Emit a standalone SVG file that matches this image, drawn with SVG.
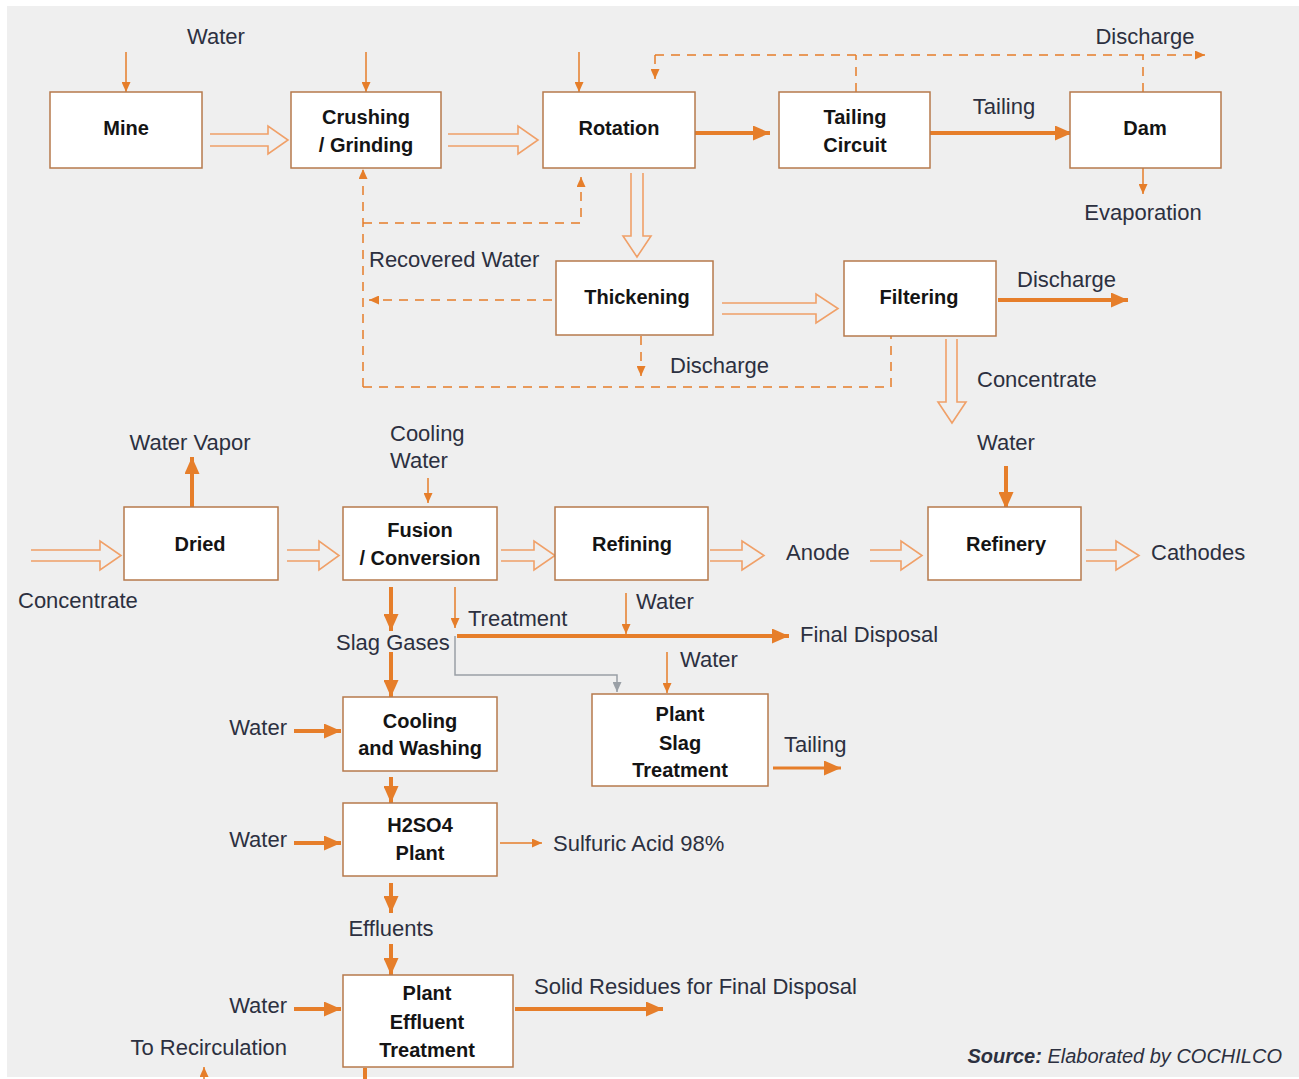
<svg xmlns="http://www.w3.org/2000/svg" width="1299" height="1079" viewBox="0 0 1299 1079">
<style>
.box{fill:#fff;stroke:#b67a4c;stroke-width:1.5}
.nt{font-family:"Liberation Sans",Arial,sans-serif;font-weight:bold;font-size:20px;fill:#141414;text-anchor:middle}
.lb{font-family:"Liberation Sans",Arial,sans-serif;font-size:22px;fill:#2c3040}
.thick{stroke:#e67e2a;stroke-width:4;fill:none;marker-end:url(#hk)}
.thin{stroke:#e67e2a;stroke-width:1.5;fill:none;marker-end:url(#hn)}
.dash{stroke:#e67e2a;stroke-width:1.5;fill:none;stroke-dasharray:9 7}
.dashA{stroke:#e67e2a;stroke-width:1.5;fill:none;stroke-dasharray:9 7;marker-end:url(#hn)}
.hollow{stroke:#f0a068;stroke-width:1.6;fill:none}
</style>
<defs>
<marker id="hk" markerUnits="userSpaceOnUse" markerWidth="17" markerHeight="15" refX="17" refY="7.5" orient="auto"><path d="M0,0 L17,7.5 L0,15 z" fill="#e67e2a"/></marker>
<marker id="hn" markerUnits="userSpaceOnUse" markerWidth="10" markerHeight="9" refX="10" refY="4.5" orient="auto"><path d="M0,0 L10,4.5 L0,9 z" fill="#e67e2a"/></marker>
<marker id="hg" markerUnits="userSpaceOnUse" markerWidth="10" markerHeight="9" refX="10" refY="4.5" orient="auto"><path d="M0,0 L10,4.5 L0,9 z" fill="#9aa0a6"/></marker>
</defs>
<rect x="0" y="0" width="1299" height="1079" fill="#ffffff"/>
<rect x="7" y="6" width="1292" height="1071" fill="#efefef"/>

<g id="connectors">
<path class="hollow" d="M210,134 H268 V126 L288,140 L268,154 V146 H210"/>
<path class="hollow" d="M448,134 H518 V126 L538,140 L518,154 V146 H448"/>
<path class="hollow" d="M631,173 V236 H623 L637,257 L651,236 H643 V173"/>
<path class="hollow" d="M722,303 H816 V294 L838,308.5 L816,323 V314 H722"/>
<path class="hollow" d="M946,339 V402 H938 L952,423 L966,402 H957 V339"/>
<path class="hollow" d="M31,550 H100 V541 L121,555.5 L100,570 V561 H31"/>
<path class="hollow" d="M287,550 H319 V541 L339,555.5 L319,570 V561 H287"/>
<path class="hollow" d="M501,550 H534 V541 L555,555.5 L534,570 V561 H501"/>
<path class="hollow" d="M710,550 H742 V541 L764,555.5 L742,570 V561 H710"/>
<path class="hollow" d="M870,550 H901 V541 L922,555.5 L901,570 V561 H870"/>
<path class="hollow" d="M1086,550 H1116 V541 L1139,555.5 L1116,570 V561 H1086"/>
<line class="thick" x1="695" y1="133" x2="770" y2="133"/>
<line class="thick" x1="930" y1="133" x2="1072" y2="133"/>
<line class="thick" x1="998" y1="300" x2="1128" y2="300"/>
<line class="thick" x1="1006" y1="466" x2="1006" y2="509"/>
<line class="thick" x1="192" y1="507" x2="192" y2="457"/>
<line class="thick" x1="391" y1="587" x2="391" y2="631"/>
<line class="thick" x1="391" y1="652" x2="391" y2="697"/>
<line class="thick" x1="457" y1="636" x2="789" y2="636"/>
<line class="thick" style="stroke-width:3" x1="773" y1="768" x2="841" y2="768"/>
<line class="thick" x1="294" y1="731" x2="341" y2="731"/>
<line class="thick" x1="391" y1="777" x2="391" y2="803"/>
<line class="thick" x1="294" y1="843" x2="341" y2="843"/>
<line class="thick" x1="391" y1="883" x2="391" y2="913"/>
<line class="thick" x1="391" y1="944" x2="391" y2="975"/>
<line class="thick" x1="294" y1="1009" x2="341" y2="1009"/>
<line class="thick" x1="515" y1="1009" x2="663" y2="1009"/>
<line x1="365" y1="1068" x2="365" y2="1085" stroke="#e67e2a" stroke-width="4"/>
<line class="thin" x1="126" y1="52" x2="126" y2="92"/>
<line class="thin" x1="366" y1="52" x2="366" y2="92"/>
<line class="thin" x1="579" y1="52" x2="579" y2="92"/>
<line class="thin" x1="1143" y1="168" x2="1143" y2="194"/>
<line class="thin" x1="428" y1="478" x2="428" y2="503"/>
<line class="thin" x1="455" y1="587" x2="455" y2="628"/>
<line class="thin" x1="626" y1="593" x2="626" y2="634"/>
<line class="thin" x1="667" y1="652" x2="667" y2="693"/>
<line class="thin" x1="500" y1="843" x2="542" y2="843"/>
<line class="thin" x1="204" y1="1092" x2="204" y2="1067"/>
<path class="dashA" d="M655,55 H1205"/>
<path class="dashA" d="M655,55 V79"/>
<path class="dash" d="M856,92 V55"/>
<path class="dash" d="M1143,92 V55"/>
<path class="dashA" d="M552,300 H369"/>
<path class="dashA" d="M363,387 V169"/>
<path class="dashA" d="M363,223 H581 V177"/>
<path class="dashA" d="M363,387 H891 V326"/>
<path class="dashA" d="M641,336 V376"/>
<path d="M455,636 V675 H617 V692" fill="none" stroke="#9aa0a6" stroke-width="1.5" marker-end="url(#hg)"/>
</g>

<g id="mine"><rect class="box" x="50" y="92" width="152" height="76"/><text class="nt" x="126" y="135">Mine</text></g>
<g id="crushing"><rect class="box" x="291" y="92" width="150" height="76"/><text class="nt" x="366" y="124">Crushing</text><text class="nt" x="366" y="152">/ Grinding</text></g>
<g id="rotation"><rect class="box" x="543" y="92" width="152" height="76"/><text class="nt" x="619" y="135">Rotation</text></g>
<g id="tailing-circuit"><rect class="box" x="779" y="92" width="151" height="76"/><text class="nt" x="855" y="124">Tailing</text><text class="nt" x="855" y="152">Circuit</text></g>
<g id="dam"><rect class="box" x="1070" y="92" width="151" height="76"/><text class="nt" x="1145" y="135">Dam</text></g>
<g id="thickening"><rect class="box" x="556" y="261" width="157" height="74"/><text class="nt" x="637" y="304">Thickening</text></g>
<g id="filtering"><rect class="box" x="844" y="261" width="152" height="75"/><text class="nt" x="919" y="304">Filtering</text></g>
<g id="dried"><rect class="box" x="124" y="507" width="154" height="73"/><text class="nt" x="200" y="551">Dried</text></g>
<g id="fusion"><rect class="box" x="343" y="507" width="154" height="73"/><text class="nt" x="420" y="537">Fusion</text><text class="nt" x="420" y="565">/ Conversion</text></g>
<g id="refining"><rect class="box" x="555" y="507" width="153" height="73"/><text class="nt" x="632" y="551">Refining</text></g>
<g id="refinery"><rect class="box" x="928" y="507" width="153" height="73"/><text class="nt" x="1006" y="551">Refinery</text></g>
<g id="cooling"><rect class="box" x="343" y="697" width="154" height="74"/><text class="nt" x="420" y="728">Cooling</text><text class="nt" x="420" y="755">and Washing</text></g>
<g id="slag-plant"><rect class="box" x="592" y="694" width="176" height="92"/><text class="nt" x="680" y="721">Plant</text><text class="nt" x="680" y="750">Slag</text><text class="nt" x="680" y="777">Treatment</text></g>
<g id="h2so4"><rect class="box" x="343" y="803" width="154" height="73"/><text class="nt" x="420" y="832">H2SO4</text><text class="nt" x="420" y="860">Plant</text></g>
<g id="effluent-plant"><rect class="box" x="343" y="975" width="170" height="92"/><text class="nt" x="427" y="1000">Plant</text><text class="nt" x="427" y="1029">Effluent</text><text class="nt" x="427" y="1057">Treatment</text></g>

<g id="labels">
<text class="lb" x="216" y="44" text-anchor="middle">Water</text>
<text class="lb" x="1145" y="44" text-anchor="middle">Discharge</text>
<text class="lb" x="1004" y="114" text-anchor="middle">Tailing</text>
<text class="lb" x="1143" y="220" text-anchor="middle">Evaporation</text>
<text class="lb" x="369" y="267">Recovered Water</text>
<text class="lb" x="1017" y="287">Discharge</text>
<text class="lb" x="670" y="373">Discharge</text>
<text class="lb" x="977" y="387">Concentrate</text>
<text class="lb" x="1006" y="450" text-anchor="middle">Water</text>
<text class="lb" x="190" y="450" text-anchor="middle">Water Vapor</text>
<text class="lb" x="390" y="441">Cooling</text>
<text class="lb" x="390" y="468">Water</text>
<text class="lb" x="18" y="608">Concentrate</text>
<text class="lb" x="786" y="560">Anode</text>
<text class="lb" x="1151" y="560">Cathodes</text>
<text class="lb" x="468" y="626">Treatment</text>
<text class="lb" x="636" y="609">Water</text>
<text class="lb" x="336" y="650">Slag Gases</text>
<text class="lb" x="800" y="642">Final Disposal</text>
<text class="lb" x="680" y="667">Water</text>
<text class="lb" x="784" y="752">Tailing</text>
<text class="lb" x="287" y="735" text-anchor="end">Water</text>
<text class="lb" x="287" y="847" text-anchor="end">Water</text>
<text class="lb" x="553" y="851">Sulfuric Acid 98%</text>
<text class="lb" x="391" y="936" text-anchor="middle">Effluents</text>
<text class="lb" x="287" y="1013" text-anchor="end">Water</text>
<text class="lb" x="534" y="994">Solid Residues for Final Disposal</text>
<text class="lb" x="287" y="1055" text-anchor="end">To Recirculation</text>
<text class="lb" x="1282" y="1063" text-anchor="end" font-style="italic" style="font-size:20px"><tspan font-weight="bold">Source:</tspan> Elaborated by COCHILCO</text>
</g>
</svg>
